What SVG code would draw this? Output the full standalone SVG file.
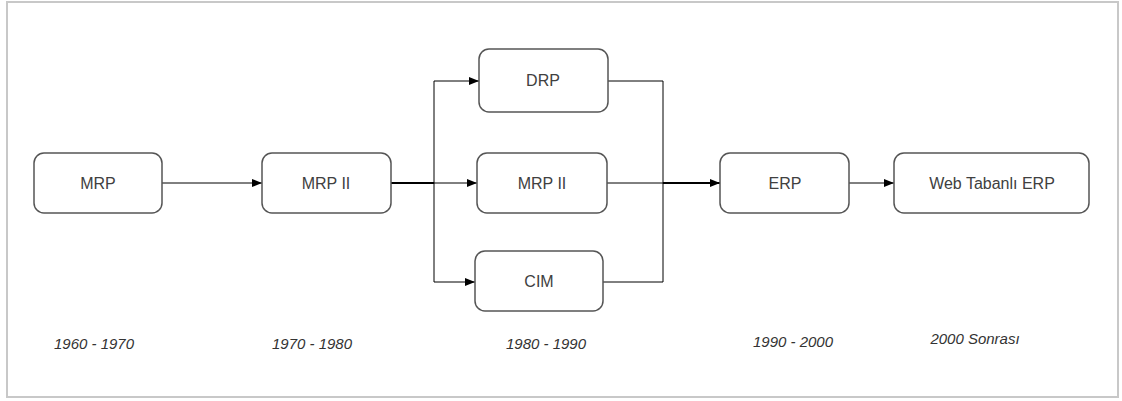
<svg xmlns="http://www.w3.org/2000/svg" width="1122" height="401" viewBox="0 0 1122 401">
<style>
.node rect{fill:#fff;stroke:#555;stroke-width:1.5}
.node text{font-family:"Liberation Sans",Arial,sans-serif;font-size:16px;fill:#404040;text-anchor:middle}
.date{font-family:"Liberation Sans",Arial,sans-serif;font-size:15px;font-style:italic;fill:#333;text-anchor:middle}
.c{fill:none;stroke:#000;stroke-width:1}
.t{fill:none;stroke:#000;stroke-width:2}
</style>
<defs>
<marker id="ah" viewBox="0 0 10 10" refX="10" refY="5" markerWidth="10" markerHeight="10" markerUnits="userSpaceOnUse" orient="auto">
<path d="M0,1 L10,5 L0,9 Z" fill="#000"/>
</marker>
</defs>
<rect x="7" y="2" width="1111" height="395" fill="#fff" stroke="#c8c8c8" stroke-width="2"/>
<g id="connectors">
<line class="c" x1="162" y1="183" x2="262" y2="183" marker-end="url(#ah)"/>
<line class="t" x1="391" y1="183" x2="434" y2="183"/>
<line class="c" x1="434" y1="81" x2="434" y2="282"/>
<line class="c" x1="434" y1="81" x2="479" y2="81" marker-end="url(#ah)"/>
<line class="c" x1="434" y1="183" x2="477" y2="183" marker-end="url(#ah)"/>
<line class="c" x1="434" y1="282" x2="475" y2="282" marker-end="url(#ah)"/>
<polyline class="c" points="608,81 663,81 663,282 603,282"/>
<line class="c" x1="607" y1="183" x2="663" y2="183"/>
<line class="t" x1="663" y1="183" x2="720" y2="183" marker-end="url(#ah)"/>
<line class="c" x1="849" y1="183" x2="894" y2="183" marker-end="url(#ah)"/>
</g>
<g id="mrp" class="node"><rect x="34" y="153" width="128" height="60" rx="10"/><text x="98" y="189">MRP</text></g>
<g id="mrp2" class="node"><rect x="262" y="153" width="129" height="60" rx="10"/><text x="326" y="189">MRP II</text></g>
<g id="drp" class="node"><rect x="479" y="49" width="129" height="63" rx="10"/><text x="543" y="86">DRP</text></g>
<g id="mrp2b" class="node"><rect x="477" y="153" width="130" height="60" rx="10"/><text x="542" y="189">MRP II</text></g>
<g id="cim" class="node"><rect x="475" y="251" width="128" height="60" rx="10"/><text x="539" y="287">CIM</text></g>
<g id="erp" class="node"><rect x="720" y="153" width="129" height="60" rx="10"/><text x="785" y="189">ERP</text></g>
<g id="web" class="node"><rect x="894" y="153" width="195" height="60" rx="10"/><text x="992" y="189">Web Tabanlı ERP</text></g>
<g id="dates">
<text class="date" x="94" y="349">1960 - 1970</text>
<text class="date" x="312" y="349">1970 - 1980</text>
<text class="date" x="546" y="349">1980 - 1990</text>
<text class="date" x="793" y="347">1990 - 2000</text>
<text class="date" x="975" y="344">2000 Sonrası</text>
</g>
</svg>
